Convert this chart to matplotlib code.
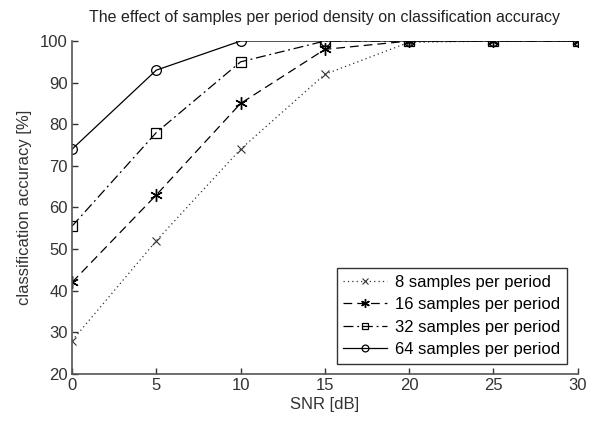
import matplotlib
matplotlib.use("Agg")
import matplotlib.pyplot as plt

snr = [0, 5, 10, 15, 20, 25, 30]
acc_8 = [28, 52, 74, 92, 99.7, 100, 100]
acc_16 = [42, 63, 85, 98, 100, 100, 100]
acc_32 = [55.5, 78, 95, 100, 100, 100, 100]
acc_64 = [74, 93, 100, 100, 100, 100, 100]
labels = ["8 samples per period", "16 samples per period",
          "32 samples per period", "64 samples per period"]

plt.rcParams['font.family'] = ['Liberation Sans', 'DejaVu Sans']
fig = plt.figure(figsize=(5.95, 4.23), dpi=100)
ax = fig.add_axes([0.121, 0.116, 0.850, 0.787])

ax.plot(snr, acc_8, color='#333333', linestyle=(0, (1, 2.5)), marker='x', ms=6, mew=0.8, lw=0.9, label=labels[0])
ax.plot(snr, acc_16, color='black', linestyle=(0, (7, 4)), marker=(6, 2, 0), ms=9, mew=1.0, lw=0.9, label=labels[1])
ax.plot(snr, acc_32, color='black', linestyle=(0, (8, 3, 1.5, 3)), marker='s', ms=7, mfc='none', mew=0.9, lw=0.9, label=labels[2])
ax.plot(snr, acc_64, color='black', linestyle='-', marker='o', ms=7, mfc='none', mew=0.9, lw=0.9, label=labels[3])

ax.set_xlim(0, 30)
ax.set_ylim(20, 100)
ax.set_xticks(range(0, 31, 5))
ax.set_yticks(range(20, 101, 10))
for s in ['top', 'right']:
    ax.spines[s].set_visible(False)
for s in ['left', 'bottom']:
    ax.spines[s].set_color('#555555')
    ax.spines[s].set_linewidth(1.2)
ax.tick_params(direction='in', colors='#333333', labelsize=12, length=4, width=1, pad=3)
ax.set_xlabel('SNR [dB]', fontsize=12, color='#333333', labelpad=3)
ax.set_ylabel('classification accuracy [%]', fontsize=12, color='#333333', labelpad=6)
ax.set_title('The effect of samples per period density on classification accuracy', fontsize=11.5, color='#222222', pad=14)

leg = ax.legend(loc='lower right', fontsize=12, fancybox=False, framealpha=1,
                edgecolor='#333333', handlelength=2.6, borderpad=0.4,
                labelspacing=0.45, handletextpad=0.5, markerscale=0.7,
                bbox_to_anchor=(0.995, 0.005))
leg.get_frame().set_linewidth(1.0)

fig.savefig('out.png', dpi=100)
